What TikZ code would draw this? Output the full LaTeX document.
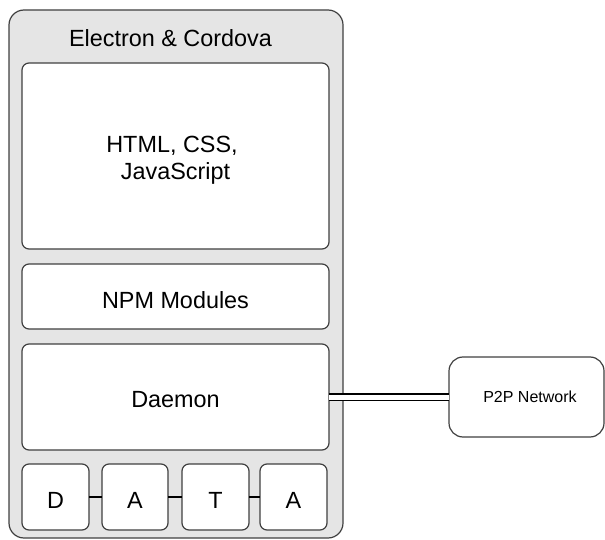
\documentclass[tikz,border=0pt]{standalone}
\usepackage{fontspec}
\setmainfont{Liberation Sans}
\newcommand{\lowr}[2]{\raisebox{-#1pt}[\height][\depth]{#2}}
\begin{document}
\begin{tikzpicture}[x=1pt,y=-1pt,
  outerbox/.style={draw=black!75, line width=1.2pt, fill=black!10, rounded corners=15pt, inner sep=0pt, outer sep=0pt},
  innerbox/.style={draw=black!75, line width=1.2pt, fill=white, rounded corners=7pt, inner sep=0pt, outer sep=0pt, align=center, font=\fontsize{23.4}{27.3}\selectfont},
  p2pbox/.style={draw=black!75, line width=1.2pt, fill=white, rounded corners=14pt, inner sep=0pt, outer sep=0pt, font=\fontsize{16}{19}\selectfont},
  titletext/.style={inner sep=0pt, font=\fontsize{23.4}{28}\selectfont},
  link/.style={draw=black, line width=1.5pt},
  dbl/.style={draw=black, line width=1.8pt, double=white, double distance=5pt}
]
\useasboundingbox (0,0) rectangle (605,540);
\node[outerbox, minimum width=334pt, minimum height=528pt] (outer) at (176,274) {};
\node[titletext] (title) at (170.5,38) {Electron \& Cordova};
\node[innerbox, minimum width=307pt, minimum height=186pt] (html) at (175.5,156) {\lowr{4.5}{HTML, CSS,\hspace*{7pt}}\\ \lowr{4.5}{JavaScript}};
\node[innerbox, minimum width=307pt, minimum height=65pt] (npm) at (175.5,296.5) {\lowr{3.5}{NPM Modules}};
\node[innerbox, minimum width=307pt, minimum height=106pt] (daemon) at (175.5,397) {\lowr{3}{Daemon}};
\node[innerbox, minimum width=67pt, minimum height=66pt] (d) at (55.5,497) {\lowr{3}{D}};
\node[innerbox, minimum width=66pt, minimum height=66pt] (a1) at (135,497) {\lowr{3}{A}};
\node[innerbox, minimum width=67pt, minimum height=66pt] (t) at (215.5,497) {\lowr{3}{T}};
\node[innerbox, minimum width=67pt, minimum height=66pt] (a2) at (293.5,497) {\lowr{3}{A}};
\node[p2pbox, minimum width=155pt, minimum height=80pt] (p2p) at (526.5,397) {\hspace*{7pt}P2P Network};
\draw[link] (d) -- (a1);
\draw[link] (a1) -- (t);
\draw[link] (t) -- (a2);
\draw[dbl] (daemon.east) -- (p2p.west);
\end{tikzpicture}
\end{document}
